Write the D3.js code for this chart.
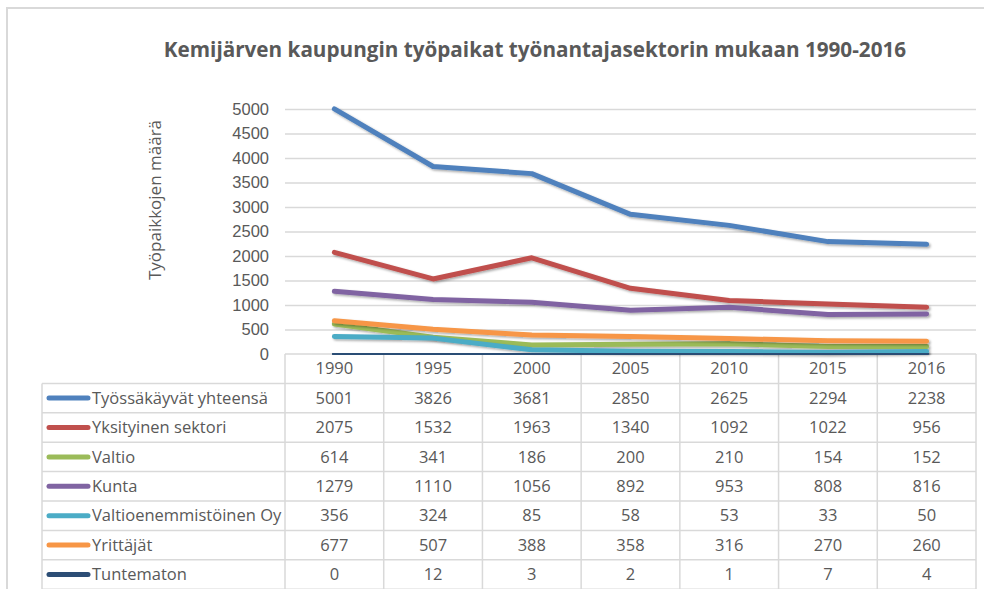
<!DOCTYPE html>
<head>
  <meta charset="utf-8">
  <script src="https://d3js.org/d3.v7.min.js"></script>
  <style>
    body { margin: 0; background: #fff; }
    svg { display: block; font-family: "Open Sans", sans-serif; }
    .tick line { stroke: #d9d9d9; stroke-width: 1.3px; }
    .tick text { fill: #595959; font-size: 16.5px; }
  </style>
</head>
<body>
  <svg width="984" height="589"></svg>
  <script>
    // data
    var years = ['1990', '1995', '2000', '2005', '2010', '2015', '2016'];
    var seriesNames = ['Työssäkäyvät yhteensä', 'Yksityinen sektori', 'Valtio', 'Kunta',
      'Valtioenemmistöinen Oy', 'Yrittäjät', 'Tuntematon'];
    var tyossakayvat = [5001, 3826, 3681, 2850, 2625, 2294, 2238];
    var yksityinen = [2075, 1532, 1963, 1340, 1092, 1022, 956];
    var valtio = [614, 341, 186, 200, 210, 154, 152];
    var kunta = [1279, 1110, 1056, 892, 953, 808, 816];
    var valtioenemmisto = [356, 324, 85, 58, 53, 33, 50];
    var yrittajat = [677, 507, 388, 358, 316, 270, 260];
    var tuntematon = [0, 12, 3, 2, 1, 7, 4];
    var yTicks = [0, 500, 1000, 1500, 2000, 2500, 3000, 3500, 4000, 4500, 5000];
    var colors = ['#4F81BD', '#C0504D', '#9BBB59', '#8064A2', '#4BACC6', '#F79646', '#2C4D75'];

    var series = [tyossakayvat, yksityinen, valtio, kunta, valtioenemmisto, yrittajat, tuntematon]
      .map(function(vals, i) {
        return { name: seriesNames[i], color: colors[i], values: vals };
      });

    var svg = d3.select('svg');
    var plotLeft = 285, plotRight = 976, plotTop = 109, plotBottom = 354;
    var tableLeft = 42, rowH = 29.4;
    var fs = '16.5px';

    var x = d3.scaleBand().domain(years).range([plotLeft, plotRight]);
    var y = d3.scaleLinear().domain([0, 5000]).range([plotBottom, plotTop]);

    // outer chart border
    svg.append('rect')
      .attr('x', 7).attr('y', 8).attr('width', 1000).attr('height', 700)
      .attr('fill', 'none').attr('stroke', '#d9d9d9').attr('stroke-width', 2);

    // shadow for lines
    var defs = svg.append('defs');
    var f = defs.append('filter').attr('id', 'shadow')
      .attr('x', '-10%').attr('y', '-50%').attr('width', '120%').attr('height', '200%');
    f.append('feDropShadow')
      .attr('dx', 1.5).attr('dy', 1.5).attr('stdDeviation', 1.2)
      .attr('flood-color', '#000').attr('flood-opacity', 0.35);

    // title
    svg.append('text')
      .attr('x', 535).attr('y', 57)
      .attr('text-anchor', 'middle')
      .attr('fill', '#595959')
      .style('font-size', '20.7px').style('font-weight', 700)
      .text('Kemijärven kaupungin  työpaikat työnantajasektorin mukaan 1990-2016');

    // gridlines + y axis
    var yAxis = svg.append('g')
      .attr('transform', 'translate(' + plotLeft + ',0)')
      .call(d3.axisLeft(y).tickValues(yTicks).tickFormat(d3.format('d'))
        .tickSize(-(plotRight - plotLeft)).tickPadding(16));
    yAxis.select('.domain').remove();
    yAxis.selectAll('.tick').filter(function(d) { return d === 0; }).select('line').remove();

    // y axis title
    svg.append('text')
      .attr('transform', 'translate(161,200)rotate(-90)')
      .attr('text-anchor', 'middle')
      .attr('fill', '#595959')
      .style('font-size', '17px')
      .text('Työpaikkojen määrä');

    // data table
    var table = svg.append('g')
      .attr('stroke', '#d9d9d9').attr('stroke-width', 1.5);
    var nRows = series.length;
    // header row
    table.append('line')
      .attr('x1', plotLeft).attr('x2', plotRight)
      .attr('y1', plotBottom).attr('y2', plotBottom);
    for (var r = 1; r <= nRows + 1; r++) {
      table.append('line')
        .attr('x1', tableLeft).attr('x2', plotRight)
        .attr('y1', plotBottom + r * rowH).attr('y2', plotBottom + r * rowH);
    }
    var bounds = years.map(function(d) { return x(d); }).concat([plotRight]);
    bounds.forEach(function(bx) {
      table.append('line')
        .attr('x1', bx).attr('x2', bx)
        .attr('y1', plotBottom).attr('y2', plotBottom + (nRows + 1) * rowH);
    });
    table.append('line')
      .attr('x1', tableLeft).attr('x2', tableLeft)
      .attr('y1', plotBottom + rowH).attr('y2', plotBottom + (nRows + 1) * rowH);

    // year labels
    svg.selectAll('text.year')
      .data(years).enter().append('text')
      .classed('year', true)
      .attr('x', function(d) { return x(d) + x.bandwidth() / 2; })
      .attr('y', plotBottom + rowH / 2)
      .attr('dy', '0.35em')
      .attr('text-anchor', 'middle')
      .attr('fill', '#595959')
      .style('font-size', fs)
      .text(function(d) { return d; });

    // rows: legend keys, names, values
    var rows = svg.selectAll('g.row')
      .data(series).enter().append('g')
      .classed('row', true)
      .attr('transform', function(d, i) {
        return 'translate(0,' + (plotBottom + (i + 1.5) * rowH) + ')';
      });
    rows.append('line')
      .attr('x1', 49).attr('x2', 88)
      .attr('stroke', function(d) { return d.color; })
      .attr('stroke-width', 5)
      .attr('stroke-linecap', 'round');
    rows.append('text')
      .attr('x', 92).attr('dy', '0.35em')
      .attr('fill', '#595959')
      .style('font-size', fs)
      .text(function(d) { return d.name; });
    rows.selectAll('text.val')
      .data(function(d) { return d.values; })
      .enter().append('text')
      .classed('val', true)
      .attr('x', function(d, i) { return x(years[i]) + x.bandwidth() / 2; })
      .attr('dy', '0.35em')
      .attr('text-anchor', 'middle')
      .attr('fill', '#595959')
      .style('font-size', fs)
      .text(function(d) { return d; });

    // lines
    var line = d3.line()
      .x(function(d, i) { return x(years[i]) + x.bandwidth() / 2; })
      .y(function(d) { return y(d); });
    svg.append('g').selectAll('path.series')
      .data(series).enter().append('path')
      .classed('series', true)
      .attr('d', function(d) { return line(d.values); })
      .attr('fill', 'none')
      .attr('stroke', function(d) { return d.color; })
      .attr('stroke-width', 5)
      .attr('stroke-linecap', 'round')
      .attr('stroke-linejoin', 'round')
      .style('filter', 'url(#shadow)');
  </script>
</body>
